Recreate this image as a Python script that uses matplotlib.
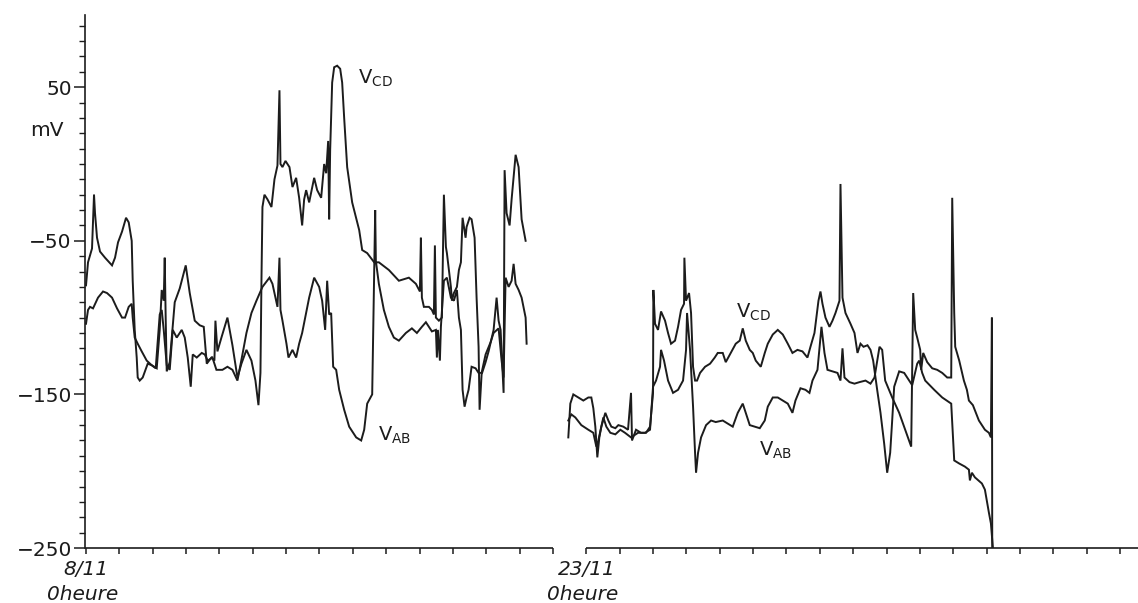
import matplotlib
matplotlib.use("Agg")
import matplotlib.pyplot as plt
import matplotlib.transforms as mtransforms
from matplotlib.ticker import FixedLocator, MultipleLocator

# ---------- Data (days since 8/11 0h, mV) ----------
# first recording period
vcd_day_1 = [0.0, 0.06, 0.18, 0.24, 0.27, 0.33, 0.42, 0.57, 0.78, 0.87,
             0.96, 1.08, 1.20, 1.28, 1.37, 1.40, 1.46, 1.52, 1.55, 1.61,
             1.70, 1.85, 1.97, 2.12, 2.21, 2.27, 2.33, 2.36, 2.39, 2.42,
             2.51, 2.66, 2.81, 2.99, 3.11, 3.26, 3.41, 3.53, 3.62, 3.76,
             3.85, 3.88, 3.94, 4.06, 4.24, 4.39, 4.54, 4.66, 4.81, 4.96,
             5.08, 5.17, 5.23, 5.26, 5.29, 5.35, 5.44, 5.56, 5.65, 5.74,
             5.80, 5.83, 5.89, 5.98, 6.10, 6.19, 6.30, 6.39, 6.48, 6.54,
             6.60, 6.69, 6.84, 6.93, 7.05, 7.14, 7.20, 7.26, 7.29, 7.32,
             7.38, 7.44, 7.53, 7.62, 7.68, 7.74, 7.83, 7.98, 8.19, 8.28,
             8.43, 8.64, 8.78, 9.08, 9.38, 9.68, 9.89, 10.01, 10.04, 10.07,
             10.13, 10.28, 10.37, 10.43, 10.46, 10.49, 10.58, 10.67, 10.73, 10.79,
             10.82, 10.88, 10.94, 10.97, 11.03, 11.12, 11.18, 11.24, 11.29, 11.38,
             11.41, 11.50, 11.56, 11.65, 11.71, 11.77, 11.80, 11.86, 11.98, 12.07,
             12.22, 12.31, 12.37, 12.43, 12.52, 12.55, 12.61, 12.70, 12.76, 12.88,
             12.97, 13.06, 13.12, 13.18]
vcd_mv_1 = [-79, -64, -55, -20, -32, -48, -57, -61, -66, -61,
            -51, -44, -35, -38, -50, -76, -108, -126, -139, -141,
            -139, -130, -131, -133, -108, -82, -89, -61, -102, -135,
            -129, -90, -81, -66, -84, -102, -105, -106, -130, -126,
            -128, -102, -122, -113, -100, -118, -139, -130, -121, -128,
            -141, -157, -136, -76, -28, -20, -23, -28, -10, -1,
            48, 0, -2, 2, -2, -15, -9, -22, -40, -23,
            -17, -25, -9, -17, -22, 0, -6, 15, -36, 9,
            53, 63, 64, 62, 53, 30, -2, -25, -43, -56,
            -58, -64, -64, -69, -76, -74, -78, -83, -48, -87,
            -93, -93, -95, -98, -53, -100, -102, -100, -20, -54,
            -58, -69, -80, -89, -84, -80, -69, -64, -35, -48,
            -41, -35, -36, -48, -87, -119, -160, -137, -129, -122,
            -108, -87, -102, -108, -149, -4, -32, -40, -23, 6,
            -2, -36, -43, -50]

vab_day_1 = [0.0, 0.06, 0.12, 0.21, 0.36, 0.51, 0.63, 0.78, 0.93, 1.08,
             1.17, 1.28, 1.37, 1.40, 1.46, 1.55, 1.67, 1.82, 1.97, 2.09,
             2.21, 2.27, 2.33, 2.42, 2.51, 2.60, 2.72, 2.87, 2.96, 3.05,
             3.14, 3.20, 3.32, 3.47, 3.56, 3.65, 3.79, 3.91, 4.09, 4.24,
             4.39, 4.54, 4.69, 4.81, 4.96, 5.11, 5.29, 5.50, 5.59, 5.74,
             5.80, 5.83, 5.89, 6.01, 6.07, 6.19, 6.30, 6.39, 6.48, 6.60,
             6.69, 6.84, 6.99, 7.08, 7.17, 7.23, 7.29, 7.35, 7.41, 7.50,
             7.59, 7.74, 7.89, 8.10, 8.25, 8.34, 8.43, 8.58, 8.64, 8.67,
             8.69, 8.78, 8.93, 9.08, 9.23, 9.38, 9.59, 9.77, 9.92, 10.07,
             10.19, 10.28, 10.37, 10.49, 10.52, 10.55, 10.61, 10.64, 10.73, 10.82,
             10.94, 11.03, 11.12, 11.18, 11.24, 11.29, 11.35, 11.41, 11.47, 11.56,
             11.68, 11.77, 11.86, 11.98, 12.13, 12.22, 12.37, 12.46, 12.52, 12.58,
             12.67, 12.76, 12.82, 12.88, 12.97, 13.06, 13.18, 13.21]
vab_mv_1 = [-104, -95, -93, -94, -87, -83, -84, -87, -94, -100,
            -100, -93, -91, -100, -113, -117, -122, -128, -131, -133,
            -98, -95, -108, -131, -134, -108, -113, -108, -113, -126,
            -145, -124, -126, -123, -124, -128, -126, -134, -134, -132,
            -134, -141, -124, -110, -97, -89, -80, -74, -78, -93,
            -61, -95, -102, -117, -126, -121, -126, -117, -110, -97,
            -87, -74, -80, -89, -108, -76, -98, -97, -132, -134,
            -147, -160, -171, -178, -180, -173, -156, -150, -67, -30,
            -63, -78, -95, -106, -113, -115, -110, -107, -110, -106,
            -103, -106, -109, -108, -126, -108, -128, -106, -76, -74,
            -87, -89, -82, -100, -108, -147, -158, -152, -147, -132,
            -133, -136, -136, -124, -116, -110, -107, -128, -139, -74,
            -80, -76, -65, -78, -82, -87, -100, -117]

# second recording period
vcd_day_2 = [14.46, 14.52, 14.61, 14.76, 14.91, 15.06, 15.15, 15.21, 15.27, 15.33,
             15.39, 15.45, 15.57, 15.66, 15.75, 15.87, 15.96, 16.11, 16.25, 16.34,
             16.37, 16.49, 16.64, 16.79, 16.91, 17.00, 17.01, 17.06, 17.15, 17.24,
             17.36, 17.45, 17.54, 17.66, 17.75, 17.84, 17.93, 17.94, 17.99, 18.08,
             18.14, 18.20, 18.26, 18.32, 18.41, 18.56, 18.71, 18.85, 18.94, 19.09,
             19.18, 19.33, 19.48, 19.60, 19.69, 19.78, 19.90, 19.99, 20.08, 20.23,
             20.35, 20.44, 20.59, 20.74, 20.89, 21.04, 21.18, 21.33, 21.48, 21.63,
             21.72, 21.84, 21.96, 22.02, 22.08, 22.17, 22.29, 22.38, 22.47, 22.59,
             22.62, 22.68, 22.77, 22.92, 23.04, 23.13, 23.22, 23.31, 23.43, 23.52,
             23.60, 23.72, 23.82, 23.93, 24.02, 24.11, 24.17, 24.23, 24.38, 24.53,
             24.68, 24.77, 24.92, 24.98, 25.07, 25.16, 25.43, 25.67, 25.94, 26.03,
             26.18, 26.35, 26.47, 26.50, 26.56, 26.65, 26.86, 26.95, 27.07, 27.13,
             27.19]
vcd_mv_2 = [-178, -156, -150, -152, -154, -152, -152, -159, -171, -191,
            -178, -171, -162, -167, -171, -172, -170, -171, -173, -149,
            -180, -173, -175, -175, -171, -149, -82, -104, -108, -96,
            -102, -110, -117, -115, -106, -95, -91, -61, -89, -84,
            -97, -132, -141, -141, -136, -132, -130, -126, -123, -123,
            -129, -123, -117, -115, -107, -115, -121, -123, -128, -132,
            -123, -117, -111, -108, -111, -117, -123, -121, -122, -126,
            -119, -110, -89, -83, -91, -100, -106, -102, -97, -89,
            -13, -87, -97, -104, -110, -123, -117, -119, -118, -121,
            -128, -147, -162, -182, -201, -188, -167, -145, -135, -136,
            -141, -144, -130, -128, -136, -141, -147, -152, -156, -193,
            -195, -197, -199, -206, -201, -204, -208, -212, -227, -234,
            -250]

vab_day_2 = [14.46, 14.55, 14.67, 14.85, 15.06, 15.21, 15.30, 15.36, 15.51, 15.60,
             15.72, 15.87, 16.02, 16.16, 16.34, 16.55, 16.76, 16.91, 17.00, 17.09,
             17.21, 17.24, 17.33, 17.45, 17.60, 17.75, 17.90, 17.99, 18.02, 18.11,
             18.20, 18.26, 18.29, 18.35, 18.44, 18.59, 18.74, 18.88, 19.09, 19.24,
             19.39, 19.54, 19.69, 19.78, 19.90, 20.05, 20.20, 20.35, 20.44, 20.59,
             20.74, 20.89, 21.04, 21.18, 21.27, 21.42, 21.57, 21.69, 21.78, 21.93,
             22.02, 22.05, 22.14, 22.23, 22.38, 22.53, 22.62, 22.68, 22.74, 22.89,
             23.04, 23.19, 23.37, 23.52, 23.64, 23.79, 23.87, 23.96, 24.17, 24.38,
             24.56, 24.74, 24.80, 24.86, 24.92, 25.01, 25.04, 25.10, 25.22, 25.37,
             25.52, 25.67, 25.82, 25.94, 25.97, 26.03, 26.06, 26.18, 26.32, 26.41,
             26.47, 26.59, 26.77, 26.95, 27.07, 27.13, 27.16, 27.17]
vab_mv_2 = [-167, -163, -165, -170, -173, -175, -184, -180, -165, -171,
            -175, -176, -173, -175, -178, -175, -175, -173, -145, -141,
            -132, -121, -128, -141, -149, -147, -141, -121, -97, -121,
            -158, -188, -201, -188, -178, -170, -167, -168, -167, -169,
            -171, -162, -156, -162, -170, -171, -172, -167, -158, -152,
            -152, -154, -156, -162, -154, -146, -147, -149, -141, -134,
            -113, -106, -123, -134, -135, -136, -141, -120, -139, -142,
            -143, -142, -141, -143, -139, -119, -121, -141, -152, -162,
            -173, -184, -84, -108, -113, -121, -134, -123, -129, -133,
            -134, -136, -139, -139, -22, -97, -119, -128, -141, -147,
            -154, -157, -167, -173, -175, -178, -100, -250]

y_major = [50, -50, -150, -250]
date_labels = ["8/11", "23/11"]
date_days = [0, 15]
axis_break = (14, 15)

# ---------- Figure ----------
plt.rcParams['font.family'] = ['DejaVu Sans']
plt.rcParams['mathtext.fontset'] = 'dejavusans'

ink = '#1c1c1c'
fig = plt.figure(figsize=(11.38, 6.03), dpi=100)
ax = fig.add_axes([0.0747, 0.0912, 0.9253, 0.8839])

for d, v in [(vcd_day_1, vcd_mv_1), (vab_day_1, vab_mv_1),
             (vcd_day_2, vcd_mv_2), (vab_day_2, vab_mv_2)]:
    ax.plot(d, v, color=ink, lw=1.4, solid_joinstyle='miter')

x0, x1 = -0.03, 31.54
ax.set_xlim(x0, x1)
ax.set_ylim(-250, 97)

for s in ['top', 'right', 'bottom']:
    ax.spines[s].set_visible(False)
ax.spines['left'].set_color(ink)
ax.spines['left'].set_linewidth(1.2)

# broken time axis
ax.hlines([-250, -250], [x0, axis_break[1]], [axis_break[0], x1], color=ink, lw=1.2, clip_on=False)

ax.xaxis.set_major_locator(MultipleLocator(1))
ax.set_xticklabels([])
ax.tick_params(axis='x', direction='out', length=4, width=1.1, color=ink)

ax.yaxis.set_major_locator(FixedLocator(y_major))
ax.yaxis.set_minor_locator(MultipleLocator(10))
ax.tick_params(axis='y', which='major', direction='out', length=8, width=1.1,
               color=ink, labelsize=14.5, pad=1.5, labelcolor=ink)
ax.tick_params(axis='y', which='minor', direction='out', length=4, width=1.0, color=ink)

ax.text(-0.036, 22, 'mV', transform=ax.get_yaxis_transform(), ha='center', va='center',
        fontsize=14.5, color=ink)

trans = mtransforms.blended_transform_factory(ax.transData, ax.transAxes)
for day, label in zip(date_days, date_labels):
    ax.text(day, -0.041, label, transform=trans, ha='center', va='center',
            fontsize=14.5, style='italic', color=ink)
    ax.text(day - 0.1, -0.088, '0heure', transform=trans, ha='center', va='center',
            fontsize=14.5, style='italic', color=ink)

# curve labels
lab = dict(fontsize=14, color=ink, ha='left', va='baseline')
ax.text(8.14, 52, r'V$_{\mathrm{CD}}$', **lab)
ax.text(8.74, -180, r'V$_{\mathrm{AB}}$', **lab)
ax.text(19.49, -100, r'V$_{\mathrm{CD}}$', **lab)
ax.text(20.18, -190, r'V$_{\mathrm{AB}}$', **lab)

fig.savefig('out.png', dpi=100)
